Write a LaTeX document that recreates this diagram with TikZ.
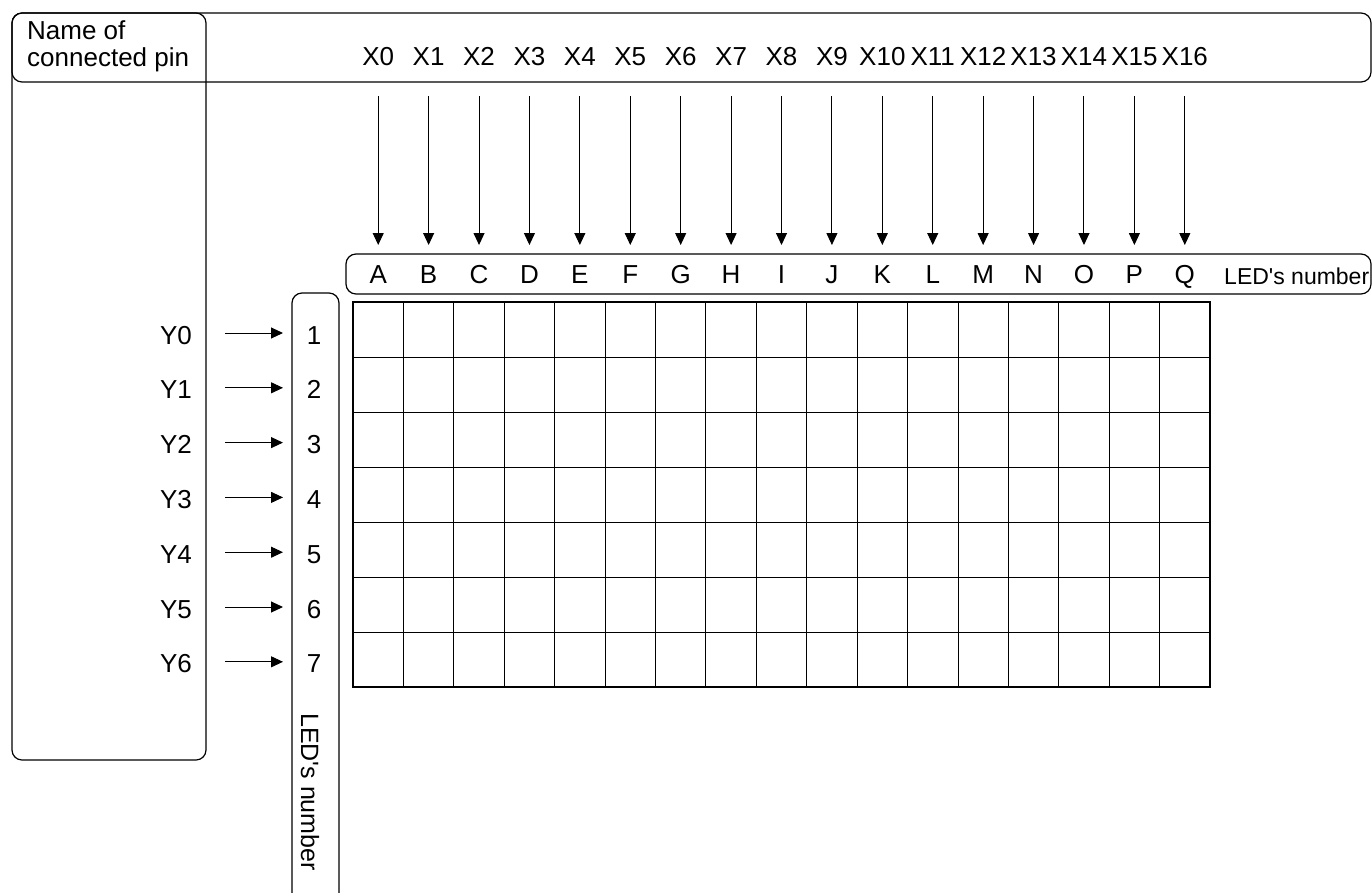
\documentclass[tikz,border=0pt]{standalone}
\usepackage{fontspec}
\setmainfont{Liberation Sans}
\usetikzlibrary{arrows.meta}
\begin{document}
\begin{tikzpicture}[x=1pt,y=-1pt,
  lbl/.style={font=\fontsize{26}{31}\selectfont, inner sep=0pt},
  smalllbl/.style={font=\fontsize{23}{28}\selectfont, inner sep=0pt},
  frame/.style={draw, line width=1.2pt, rounded corners=10pt},
  pinarrow/.style={-{Triangle[width=11pt,length=12pt]}, line width=1pt},
  thinline/.style={line width=0.9pt},
  thickline/.style={line width=2.6pt}
]
\useasboundingbox (0,0) rectangle (1372,892);
% frames
\draw[frame] (12,13) rectangle (1371,82);
\draw[frame] (12,13) rectangle (206,760);
\draw[frame] (346,254) rectangle (1371,294);
\draw[line width=1.2pt, rounded corners=10pt] (292,894) -- (292,293) -- (339,293) -- (339,894);
% header text
\node[lbl, anchor=base west] (name1) at (27,39) {Name of};
\node[lbl, anchor=base west] (name2) at (27,66) {connected pin};
% grid
\foreach \k in {1,...,6} {
  \draw[thinline] (353,{302+55*\k}) -- (1210,{302+55*\k});
}
\foreach \k in {1,...,16} {
  \draw[thinline] ({353+857/17*\k},302) -- ({353+857/17*\k},687);
}
\draw[thickline] (353,302) rectangle (1210,687);
% columns
\foreach \L [count=\i from 0] in {A,B,C,D,E,F,G,H,I,J,K,L,M,N,O,P,Q} {
  \pgfmathsetmacro{\cx}{353+857/17*(\i+0.5)}
  \node[lbl, anchor=base] (x\i) at (\cx,65) {X\i};
  \node[lbl, anchor=base] (c\i) at (\cx,283) {\L};
  \coordinate (t\i) at (\cx,96);
  \coordinate (b\i) at (\cx,245);
  \draw[pinarrow] (t\i) -- (b\i);
}
\node[smalllbl, anchor=base west] (ledh) at (1224,284) {LED\textquotesingle s number};
% rows
\foreach \r [count=\j from 0] in {1,...,7} {
  \pgfmathsetmacro{\by}{344+54.8*\j}
  \pgfmathsetmacro{\ay}{333+54.8*\j}
  \node[lbl, anchor=base east] (y\j) at (192,\by) {Y\j};
  \node[lbl, anchor=base] (n\r) at (314,\by) {\r};
  \coordinate (l\j) at (225,\ay);
  \coordinate (r\j) at (283,\ay);
  \draw[pinarrow] (l\j) -- (r\j);
}
\node[font=\fontsize{25}{30}\selectfont, inner sep=0pt, rotate=-90] (ledv) at (310,792) {LED\textquotesingle s number};
\end{tikzpicture}
\end{document}
